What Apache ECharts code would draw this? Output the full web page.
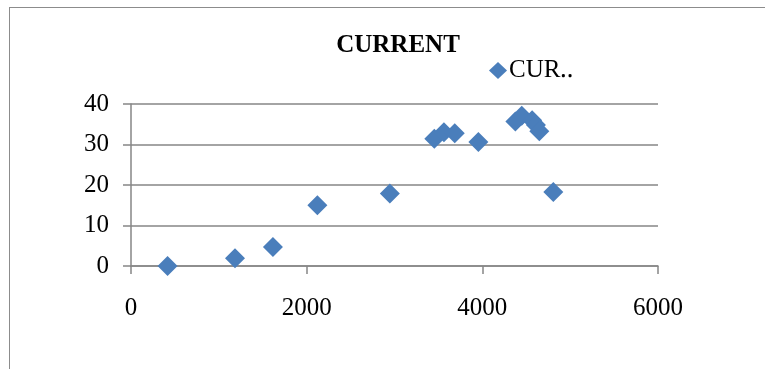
<!DOCTYPE html>
<html>
<head>
<meta charset="utf-8">
<script src="https://cdn.jsdelivr.net/npm/echarts@6/dist/echarts.min.js"></script>
<style>
html,body{margin:0;padding:0;background:#fff;}
#frame{position:absolute;left:9px;top:7px;width:800px;height:400px;border:1.5px solid #8c8c8c;box-sizing:border-box;}
#chart{position:absolute;left:0;top:0;width:765px;height:369px;}
</style>
</head>
<body>
<div id="frame"></div>
<div id="chart"></div>
<script>
const chartTitle = 'CURRENT';
const seriesName = 'CURRENT';
const xValues = [416, 1184, 1616, 2122, 2947, 3453, 3563, 3686, 3955, 4376, 4449, 4567, 4610, 4649, 4808];
const yValues = [0.0, 1.9, 4.7, 15.0, 17.9, 31.4, 33.0, 32.8, 30.6, 35.7, 37.1, 36.0, 34.8, 33.3, 18.3];
const xTicks = [0, 2000, 4000, 6000];
const yTicks = [0, 10, 20, 30, 40];

const data = xValues.map((x, i) => [x, yValues[i]]);
const serif = '"Liberation Serif", "Times New Roman", serif';
const chart = echarts.init(document.getElementById('chart'), null, {renderer: 'canvas'});
chart.setOption({
  animation: false,
  backgroundColor: 'transparent',
  title: {
    text: chartTitle,
    left: 393, top: 28, textAlign: 'center',
    textStyle: {fontFamily: serif, fontWeight: 'bold', fontSize: 25, color: '#000'}
  },
  legend: {
    left: 484, top: 53,
    icon: 'diamond', itemWidth: 18, itemHeight: 17, itemGap: 4,
    formatter: () => 'CUR\u2025',
    textStyle: {fontFamily: serif, fontSize: 25, color: '#000', padding: [0, 0, 0, -3]},
    data: [seriesName]
  },
  grid: {left: 131, right: 107, top: 104, bottom: 103, containLabel: false},
  xAxis: {
    type: 'value', min: xTicks[0], max: xTicks[xTicks.length - 1], interval: 2000,
    axisLine: {show: true, onZero: false, lineStyle: {color: '#868686', width: 1.5}},
    axisTick: {show: true, length: 8, lineStyle: {color: '#868686', width: 1.5}},
    splitLine: {show: false},
    axisLabel: {fontFamily: serif, fontSize: 25, color: '#000', margin: 30, formatter: v => String(v)}
  },
  yAxis: {
    type: 'value', min: yTicks[0], max: yTicks[yTicks.length - 1], interval: 10,
    axisLine: {show: true, lineStyle: {color: '#868686', width: 1.5}},
    axisTick: {show: true, length: 8, lineStyle: {color: '#868686', width: 1.5}},
    splitLine: {show: true, lineStyle: {color: '#868686', width: 1.5}},
    axisLabel: {fontFamily: serif, fontSize: 25, color: '#000', margin: 22, formatter: v => String(v)}
  },
  series: [{
    name: seriesName,
    type: 'scatter',
    symbol: 'diamond',
    symbolSize: 20,
    itemStyle: {color: '#4a7ebb', opacity: 1},
    data: data
  }]
});
</script>
</body>
</html>
